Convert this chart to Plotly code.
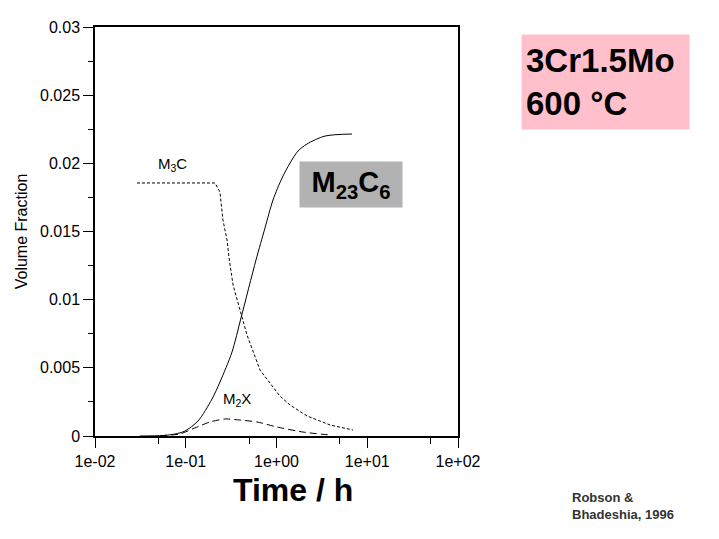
import plotly.graph_objects as go

# ---- data ----
m23c6_t = [0.031, 0.0561, 0.0761, 0.0981, 0.1365, 0.1947, 0.2384, 0.3233, 0.4064, 0.5943, 0.7468, 0.915, 1.150, 1.409, 1.725, 2.168, 3.422, 6.792]
m23c6_v = [0.0, 0.000037, 0.000147, 0.000367, 0.0011, 0.00271, 0.00396, 0.00616, 0.00866, 0.01291, 0.01526, 0.01731, 0.01892, 0.02002, 0.0209, 0.02142, 0.0220, 0.02215]

m3c_t = [0.029, 0.210, 0.238, 0.257, 0.285, 0.300, 0.332, 0.417, 0.473, 0.658, 1.09, 1.41, 2.17, 3.89, 6.97]
m3c_v = [0.01856, 0.01856, 0.0179, 0.01584, 0.01438, 0.01306, 0.01108, 0.00873, 0.00741, 0.00484, 0.00293, 0.00227, 0.00147, 0.00081, 0.00044]

m2x_t = [0.052, 0.0865, 0.126, 0.185, 0.270, 0.396, 0.610, 1.01, 1.96, 3.89]
m2x_v = [0.00002, 0.00015, 0.00059, 0.00103, 0.00125, 0.00117, 0.00103, 0.00066, 0.00029, 0.00007]

x_tickvals = [0.01, 0.1, 1, 10, 100]
x_ticktext = ["1e-02", "1e-01", "1e+00", "1e+01", "1e+02"]
x_minor = [0.05, 0.5, 5, 50]
y_tickvals = [0, 0.005, 0.01, 0.015, 0.02, 0.025, 0.03]
y_ticktext = ["0", "0.005", "0.01", "0.015", "0.02", "0.025", "0.03"]
y_minor = [0.0025, 0.0075, 0.0125, 0.0175, 0.0225, 0.0275]

FONT = "Liberation Sans, Arial, sans-serif"

fig = go.Figure()
fig.add_trace(go.Scatter(x=m23c6_t, y=m23c6_v, mode="lines",
                         line=dict(color="black", width=1, shape="spline", smoothing=0.8)))
fig.add_trace(go.Scatter(x=m3c_t, y=m3c_v, mode="lines",
                         line=dict(color="black", width=1, dash="3px,2px")))
fig.add_trace(go.Scatter(x=m2x_t, y=m2x_v, mode="lines",
                         line=dict(color="black", width=1, dash="7px,4px", shape="spline", smoothing=0.6)))

fig.update_layout(
    width=719, height=539,
    margin=dict(l=95, r=261, t=27, b=103),
    paper_bgcolor="white", plot_bgcolor="white",
    showlegend=False,
    font=dict(family=FONT, color="black"),
    xaxis=dict(type="log", range=[-2, 2], showgrid=False, zeroline=False,
               showline=True, linecolor="black", linewidth=1.5, mirror=True,
               ticks="outside", ticklen=10, tickwidth=1.2, tickcolor="black",
               tickmode="array", tickvals=x_tickvals, ticktext=x_ticktext,
               tickfont=dict(size=16, family=FONT),
               minor=dict(tickmode="array", tickvals=x_minor, ticks="outside",
                          ticklen=6, tickwidth=1.2, tickcolor="black", showgrid=False)),
    yaxis=dict(range=[0, 0.03], showgrid=False, zeroline=False,
               showline=True, linecolor="black", linewidth=1.5, mirror=True,
               ticks="outside", ticklen=10, tickwidth=1.2, tickcolor="black",
               tickmode="array", tickvals=y_tickvals, ticktext=y_ticktext,
               tickfont=dict(size=16, family=FONT),
               minor=dict(tickmode="array", tickvals=y_minor, ticks="outside",
                          ticklen=5, tickwidth=1.2, tickcolor="black", showgrid=False),
               title=dict(text="Volume Fraction", font=dict(size=16, family=FONT), standoff=8)),
)

annotations = [
    dict(x=0.545, y=-0.132, xref="paper", yref="paper", text="<b>Time / h</b>",
         xanchor="center", yanchor="middle",
         showarrow=False, font=dict(size=32, family=FONT)),
    dict(x=-1.15, y=0.0199, xref="x", yref="y", text="M<sub>3</sub>C",
         xanchor="center", yanchor="middle",
         showarrow=False, font=dict(size=15, family=FONT)),
    dict(x=-0.43, y=0.0027, xref="x", yref="y", text="M<sub>2</sub>X",
         xanchor="center", yanchor="middle",
         showarrow=False, font=dict(size=15, family=FONT)),
    dict(x=0.821, y=0.01845, xref="x", yref="y", text="<b>M<sub>23</sub>C<sub>6</sub></b>",
         xanchor="center", yanchor="middle",
         showarrow=False, font=dict(size=29, family=FONT), bgcolor="#b2b2b2",
         width=102, height=45, borderpad=0),
    dict(x=1.406, y=0.8655, xref="paper", yref="paper", text="<b>3Cr1.5Mo<br>600 °C</b>",
         xanchor="center", yanchor="middle",
         showarrow=False, font=dict(size=33, family=FONT), bgcolor="#ffc0cb",
         width=159, height=86, borderpad=4, align="left"),
    dict(x=1.3085, y=-0.171, xref="paper", yref="paper", xanchor="left", yanchor="middle",
         text="<b>Robson &<br>Bhadeshia, 1996</b>", align="left",
         showarrow=False, font=dict(size=13, family=FONT, color="#333333")),
]
fig.update_layout(annotations=annotations)

fig.write_html("out.html", config={"displayModeBar": False},
               post_script="document.body.style.margin='0px';")
